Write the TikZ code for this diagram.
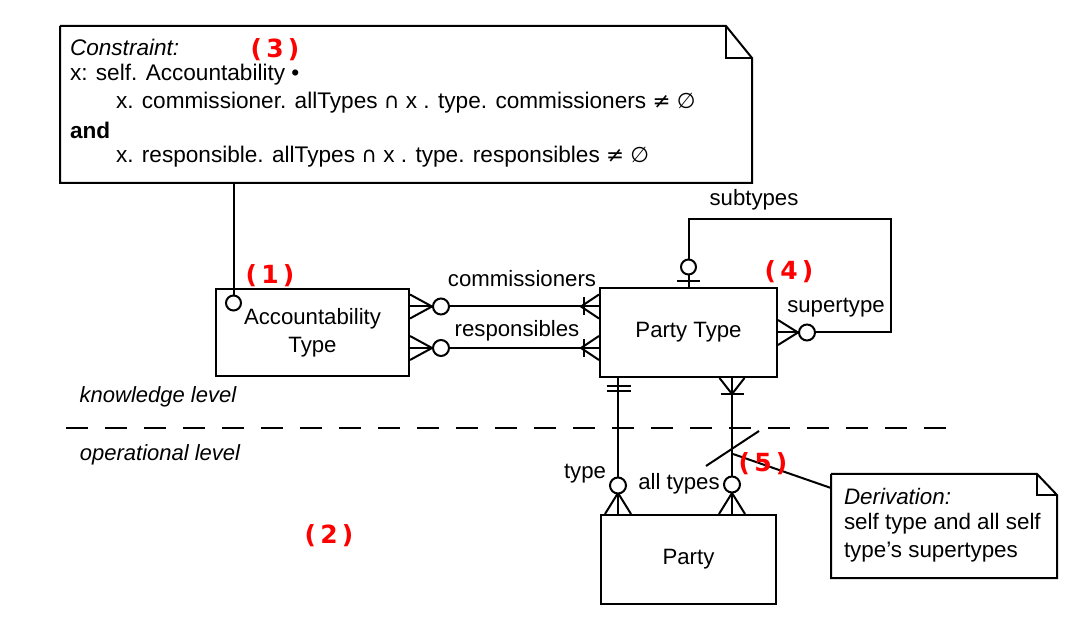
\documentclass[tikz,border=0pt]{standalone}
\usepackage{fontspec}
\setmainfont{Liberation Sans}
\newfontfamily\redfont{DejaVu Sans}
\newfontfamily\symfnt[Scale=0.95]{DejaVu Sans}
\newcommand{\mycap}{{\symfnt ∩}}
\newcommand{\myneq}{{\symfnt ≠}}
\newcommand{\myempty}{{\symfnt ∅}}
\begin{document}
\begin{tikzpicture}[x=1pt,y=-1pt,line width=2pt,
  lbl/.style={font=\fontsize{22.2}{28}\selectfont, inner sep=0pt},
  ntxt/.style={font=\fontsize{22.6}{27}\selectfont, inner sep=0pt, anchor=west},
  ent/.style={draw, rectangle, inner sep=0pt, align=center, font=\fontsize{22.2}{28}\selectfont},
  redlbl/.style={text=red, font=\redfont\bfseries\fontsize{25}{28}\selectfont, inner sep=0pt},
  optc/.style={draw, fill=white},
  lvl/.style={font=\itshape\fontsize{22}{26}\selectfont, inner sep=0pt},
  dashline/.style={dash pattern=on 22pt off 17pt}]
\useasboundingbox (0,0) rectangle (1080,644);

% entity boxes
\node[ent, minimum width=193, minimum height=87] (at) at (312.5,332.5) {Accountability\\Type};
\node[ent, minimum width=177, minimum height=89] (pt) at (688.5,332.5) {Party Type};
\node[ent, minimum width=175, minimum height=89] (party) at (688.5,559.5) {Party};

% constraint note
\coordinate (cnw) at (60,26);
\coordinate (cse) at (752,183);
\coordinate (cf) at (726,26);
\coordinate (cg) at (752,58);
\draw (cnw) -- (cf) -- (cg) -- (cse) -| (cnw);
\draw (cf) |- (cg);
\node[ntxt, font=\itshape\fontsize{22.6}{27}\selectfont] (c1) at (69,47) {Constraint:};
\node[ntxt] (c2) at (69,75) {x: self. Accountability •};
\node[ntxt] (c3) at (115,103) {x. commissioner. allTypes \mycap{} x . type. commissioners \myneq{} \myempty};
\node[ntxt, font=\bfseries\fontsize{22.6}{27}\selectfont] (c4) at (69,130) {and};
\node[ntxt] (c5) at (115,157) {x. responsible. allTypes \mycap{} x . type. responsibles \myneq{} \myempty};

% derivation note
\coordinate (dnw) at (831,474);
\coordinate (dse) at (1057,578);
\coordinate (df) at (1037,474);
\coordinate (dg) at (1057,495);
\draw (dnw) -- (df) -- (dg) -- (dse) -| (dnw);
\draw (df) |- (dg);
\node[ntxt, font=\itshape\fontsize{22.4}{27}\selectfont] (d1) at (843,496) {Derivation:};
\node[ntxt, font=\fontsize{22.4}{27}\selectfont] (d2) at (843,524) {self type and all self};
\node[ntxt, font=\fontsize{22.4}{27}\selectfont] (d3) at (843,552) {type’s supertypes};

% constraint link to Accountability Type
\coordinate (atc) at ([xshift=-79pt,yshift=-15pt]at.north);
\draw (cse -| atc) -- (atc);
\draw[optc] (atc) circle (7.5);

% commissioners
\draw ([yshift=26pt]at.east) -- ([yshift=26pt]pt.west);
\draw ([yshift=38pt]at.east) -- ++(22,12) -- ++(-22,12);
\draw[optc] ([xshift=31pt,yshift=26pt]at.east) circle (8);
\draw ([yshift=38pt]pt.west) -- ++(-18,12) -- ++(18,12);
\draw ([xshift=-15pt,yshift=35pt]pt.west) -- ++(0,18);

% responsibles
\draw ([yshift=-15.5pt]at.east) -- ([yshift=-15.5pt]pt.west);
\draw ([yshift=-3.5pt]at.east) -- ++(22,12) -- ++(-22,12);
\draw[optc] ([xshift=31pt,yshift=-15.5pt]at.east) circle (8);
\draw ([yshift=-3.5pt]pt.west) -- ++(-18,12) -- ++(18,12);
\draw ([xshift=-15pt,yshift=-6.5pt]pt.west) -- ++(0,18);

% self loop subtypes / supertype
\coordinate (lp) at (891,219);
\draw (pt.north) |- (lp) |- (pt.east);
\draw ([xshift=-11.5pt,yshift=6pt]pt.north) -- ++(23,0);
\draw[optc] ([yshift=20pt]pt.north) circle (7.5);
\draw ([yshift=12.5pt]pt.east) -- ++(20,12.5) -- ++(-20,12.5);
\draw[optc] ([xshift=29pt]pt.east) circle (8);

% type
\draw ([xshift=-70.5pt]pt.south) -- ([xshift=-70.5pt]party.north);
\draw ([xshift=-82pt,yshift=-8pt]pt.south) -- ++(24,0);
\draw ([xshift=-82pt,yshift=-13pt]pt.south) -- ++(24,0);
\draw ([xshift=-83.5pt]party.north) -- ++(13,-21) -- ++(13,21);
\draw[optc] ([xshift=-70.5pt,yshift=28.5pt]party.north) circle (8);

% all types
\draw ([xshift=43.5pt]pt.south) -- ([xshift=43.5pt]party.north);
\draw ([xshift=31pt]pt.south) -- ++(12.5,16) -- ++(12.5,-16);
\draw ([xshift=32pt,yshift=-16pt]pt.south) -- ++(23,0);
\draw ([xshift=30.5pt]party.north) -- ++(13,-21) -- ++(13,21);
\draw[optc] ([xshift=43.5pt,yshift=29.5pt]party.north) circle (8);

% derivation marker
\coordinate (sl1) at (706,466);
\coordinate (sl2) at (759,431);
\draw (sl1) -- (sl2);
\coordinate (dv) at (733,454);
\coordinate (dl) at (831,488);
\draw (dv) -- (dl);

% level separator
\coordinate (ds1) at (66,428);
\coordinate (ds2) at (960,428);
\draw[dashline] (ds1) -- (ds2);
\node[lvl] (kl) at (158,397) {knowledge level};
\node[lvl] (ol) at (160,455) {operational level};

% role labels
\node[lbl] (lc) at (522,279) {commissioners};
\node[lbl] (lr) at (517,331) {responsibles};
\node[lbl] (ls) at (754,200) {subtypes};
\node[lbl] (lsp) at (836,308) {supertype};
\node[lbl] (lt) at (585,474) {type};
\node[lbl] (la) at (679,484) {all types};

% red markers
\node[redlbl] (r1) at (270,276) {(\,1\,)};
\node[redlbl] (r2) at (329,536) {(\,2\,)};
\node[redlbl] (r3) at (275,50) {(\,3\,)};
\node[redlbl] (r4) at (789,272) {(\,4\,)};
\node[redlbl] (r5) at (763,464) {(\,5\,)};
\end{tikzpicture}
\end{document}
